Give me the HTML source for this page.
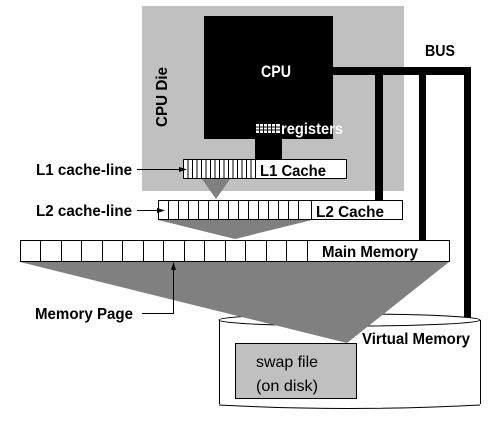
<!DOCTYPE html>
<html><head><meta charset="utf-8"><style>
html,body{margin:0;padding:0;background:#fff;}
svg{display:block}
text{font-family:"Liberation Sans",Arial,sans-serif;font-weight:bold;}
</style></head><body>
<svg width="500" height="425" viewBox="0 0 500 425" xmlns="http://www.w3.org/2000/svg">
<rect x="142" y="6" width="262" height="185" fill="#c0c0c0"/>
<text x="0" y="0" font-size="16" transform="translate(167,97) rotate(-90)" text-anchor="middle" textLength="60" lengthAdjust="spacingAndGlyphs">CPU Die</text>
<rect x="204" y="16" width="129" height="123" fill="#000"/>
<rect x="255" y="138" width="27" height="22" fill="#000"/>
<text x="276" y="77" font-size="17" fill="#fff" text-anchor="middle" textLength="30" lengthAdjust="spacingAndGlyphs">CPU</text>
<rect x="256" y="124" width="24" height="9" fill="#fff"/>
<g stroke="#000" stroke-width="1">
<line x1="256" y1="127" x2="280" y2="127"/><line x1="256" y1="130" x2="280" y2="130"/>
<line x1="259.5" y1="124" x2="259.5" y2="133"/><line x1="263.5" y1="124" x2="263.5" y2="133"/>
<line x1="267.5" y1="124" x2="267.5" y2="133"/><line x1="271.5" y1="124" x2="271.5" y2="133"/>
<line x1="275.5" y1="124" x2="275.5" y2="133"/>
</g>
<text x="281" y="134" font-size="16" fill="#fff" textLength="62" lengthAdjust="spacingAndGlyphs">registers</text>
<g fill="#000">
<rect x="333" y="67" width="138" height="8"/>
<rect x="464" y="67" width="7" height="252"/>
<rect x="419" y="67" width="7" height="174"/>
<rect x="375" y="67" width="8" height="134"/>
</g>
<text x="425" y="56" font-size="16" textLength="30" lengthAdjust="spacingAndGlyphs">BUS</text>
<polygon points="202,179 230,179 216,199" fill="#808080"/>
<polygon points="158,220 312,220 235,239" fill="#808080"/>
<rect x="183.5" y="159.5" width="163" height="19" fill="#fff" stroke="#000"/>
<g stroke="#000">
<line x1="188" y1="159" x2="188" y2="179"/><line x1="192.5" y1="159" x2="192.5" y2="179"/>
<line x1="197" y1="159" x2="197" y2="179"/><line x1="201.5" y1="159" x2="201.5" y2="179"/>
<line x1="206" y1="159" x2="206" y2="179"/><line x1="210.5" y1="159" x2="210.5" y2="179"/>
<line x1="215" y1="159" x2="215" y2="179"/><line x1="219.5" y1="159" x2="219.5" y2="179"/>
<line x1="224" y1="159" x2="224" y2="179"/><line x1="228.5" y1="159" x2="228.5" y2="179"/>
<line x1="233" y1="159" x2="233" y2="179"/><line x1="237.5" y1="159" x2="237.5" y2="179"/>
<line x1="242" y1="159" x2="242" y2="179"/><line x1="246.5" y1="159" x2="246.5" y2="179"/>
<line x1="251" y1="159" x2="251" y2="179"/><line x1="255.5" y1="159" x2="255.5" y2="179"/>
</g>
<text x="260" y="176" font-size="16" textLength="66" lengthAdjust="spacingAndGlyphs">L1 Cache</text>
<rect x="158.5" y="200.5" width="244" height="19" fill="#fff" stroke="#000"/>
<g stroke="#000">
<line x1="168.5" y1="200" x2="168.5" y2="220"/><line x1="178.5" y1="200" x2="178.5" y2="220"/>
<line x1="188.5" y1="200" x2="188.5" y2="220"/><line x1="198.5" y1="200" x2="198.5" y2="220"/>
<line x1="208.5" y1="200" x2="208.5" y2="220"/><line x1="218.5" y1="200" x2="218.5" y2="220"/>
<line x1="228.5" y1="200" x2="228.5" y2="220"/><line x1="238.5" y1="200" x2="238.5" y2="220"/>
<line x1="248.5" y1="200" x2="248.5" y2="220"/><line x1="258.5" y1="200" x2="258.5" y2="220"/>
<line x1="268.5" y1="200" x2="268.5" y2="220"/><line x1="278.5" y1="200" x2="278.5" y2="220"/>
<line x1="288.5" y1="200" x2="288.5" y2="220"/><line x1="298.5" y1="200" x2="298.5" y2="220"/>
<line x1="311.5" y1="200" x2="311.5" y2="220"/>
</g>
<text x="316" y="217" font-size="16" textLength="68" lengthAdjust="spacingAndGlyphs">L2 Cache</text>
<rect x="219" y="320" width="261" height="84" fill="#fff"/>
<line x1="219.5" y1="320" x2="219.5" y2="404" stroke="#000"/>
<line x1="480.5" y1="320" x2="480.5" y2="404" stroke="#000"/>
<ellipse cx="349.5" cy="320" rx="130.5" ry="6" fill="#fff" stroke="#000"/>
<path d="M219,405 Q349,412 480,405" fill="none" stroke="#000"/>
<polygon points="20,262 449,262 347,343" fill="#808080"/>
<rect x="20.5" y="240.5" width="429" height="21" fill="#fff" stroke="#000"/>
<g stroke="#000">
<line x1="40.5" y1="240" x2="40.5" y2="262"/><line x1="61.5" y1="240" x2="61.5" y2="262"/>
<line x1="81.5" y1="240" x2="81.5" y2="262"/><line x1="102.5" y1="240" x2="102.5" y2="262"/>
<line x1="122.5" y1="240" x2="122.5" y2="262"/><line x1="143.5" y1="240" x2="143.5" y2="262"/>
<line x1="163.5" y1="240" x2="163.5" y2="262"/><line x1="184.5" y1="240" x2="184.5" y2="262"/>
<line x1="204.5" y1="240" x2="204.5" y2="262"/><line x1="225.5" y1="240" x2="225.5" y2="262"/>
<line x1="245.5" y1="240" x2="245.5" y2="262"/><line x1="266.5" y1="240" x2="266.5" y2="262"/>
<line x1="286.5" y1="240" x2="286.5" y2="262"/><line x1="307.5" y1="240" x2="307.5" y2="262"/>
</g>
<text x="322" y="257" font-size="16" textLength="96" lengthAdjust="spacingAndGlyphs">Main Memory</text>
<rect x="235.5" y="343.5" width="121" height="55" fill="#c0c0c0" stroke="#000"/>
<text x="256" y="367" font-size="16" style="font-weight:normal" textLength="62" lengthAdjust="spacingAndGlyphs">swap file</text>
<text x="256" y="391" font-size="16" style="font-weight:normal" textLength="62" lengthAdjust="spacingAndGlyphs">(on disk)</text>
<text x="362" y="344" font-size="16" textLength="108" lengthAdjust="spacingAndGlyphs">Virtual Memory</text>
<text x="36" y="175" font-size="16" textLength="96" lengthAdjust="spacingAndGlyphs">L1 cache-line</text>
<line x1="137" y1="169.5" x2="180" y2="169.5" stroke="#000"/>
<polygon points="187,169.5 179,167 179,172" fill="#000"/>
<text x="36" y="216" font-size="16" textLength="96" lengthAdjust="spacingAndGlyphs">L2 cache-line</text>
<line x1="137" y1="210.5" x2="158" y2="210.5" stroke="#000"/>
<polygon points="165,210.5 157,208 157,213" fill="#000"/>
<text x="35" y="319" font-size="16" textLength="98" lengthAdjust="spacingAndGlyphs">Memory Page</text>
<polyline points="142,313.5 173.5,313.5 173.5,268" fill="none" stroke="#000"/>
<polygon points="173.5,262 171,270 176,270" fill="#000"/>
</svg>
</body></html>
